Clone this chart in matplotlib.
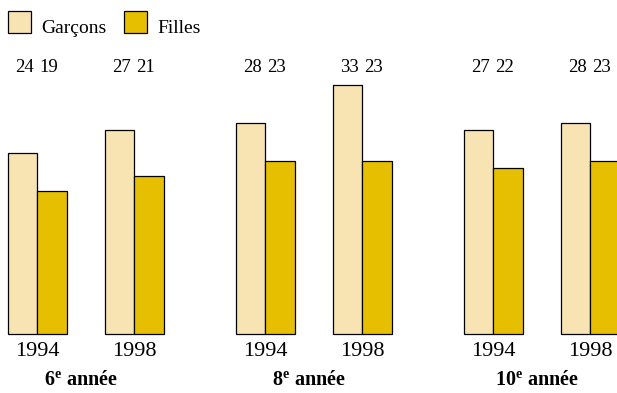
import matplotlib.pyplot as plt
from matplotlib.patches import Rectangle

plt.rcParams['font.family'] = ['Liberation Serif', 'DejaVu Serif']
plt.rcParams['mathtext.fontset'] = 'custom'
plt.rcParams['mathtext.rm'] = 'Liberation Serif'
plt.rcParams['mathtext.bf'] = 'Liberation Serif:bold'

grades = ['6', '8', '10']
years = ['1994', '1998']
series = ['Garçons', 'Filles']
garcons = [[24, 27], [28, 33], [27, 28]]
filles = [[19, 21], [23, 23], [22, 23]]

c_garcons = '#F8E4B2'
c_filles = '#E6C000'

# layout in pixels
bar_w = 29.3
year_step = 97
group_step = 228
x0 = 8
px_per_unit = 7.54
base_px = 59

fig = plt.figure(figsize=(6.17, 3.93), dpi=100)
ax = fig.add_axes([0, 0, 1, 1])
ax.set_xlim(0, 617)
ax.set_ylim(-base_px / px_per_unit, (393 - base_px) / px_per_unit)
ax.axis('off')

for g, grade in enumerate(grades):
    gx = x0 + g * group_step
    for y, year in enumerate(years):
        left = gx + y * year_step
        xs = [left + bar_w / 2, left + 1.5 * bar_w]
        vals = [garcons[g][y], filles[g][y]]
        ax.bar(xs, vals, width=bar_w, color=[c_garcons, c_filles],
               edgecolor='black', linewidth=0.9)
        for x, v in zip(xs, vals):
            ax.text(x + (2 if x == xs[0] else -3), 267 / px_per_unit, str(v),
                    ha='center', va='center', fontsize=13.5)
        ax.text(left + bar_w, -17 / px_per_unit, year,
                ha='center', va='center', fontsize=16)
    ax.text(gx + (year_step + 2 * bar_w) / 2 - 5, -46 / px_per_unit,
            r'$\mathbf{' + grade + '^{e}}$ année',
            ha='center', va='center', fontsize=14.5, fontweight='bold')

# legend drawn in pixel coordinates (y from top)
lg = fig.add_axes([0, 0, 1, 1])
lg.set_xlim(0, 617)
lg.set_ylim(393, 0)
lg.axis('off')
for label, color, lx in zip(series, [c_garcons, c_filles], [8, 124]):
    lg.add_patch(Rectangle((lx, 11), 23, 22, facecolor=color,
                           edgecolor='black', linewidth=0.9))
    lg.text(lx + 33, 33, label, ha='left', va='baseline', fontsize=14)

fig.savefig('out.png', dpi=100)
